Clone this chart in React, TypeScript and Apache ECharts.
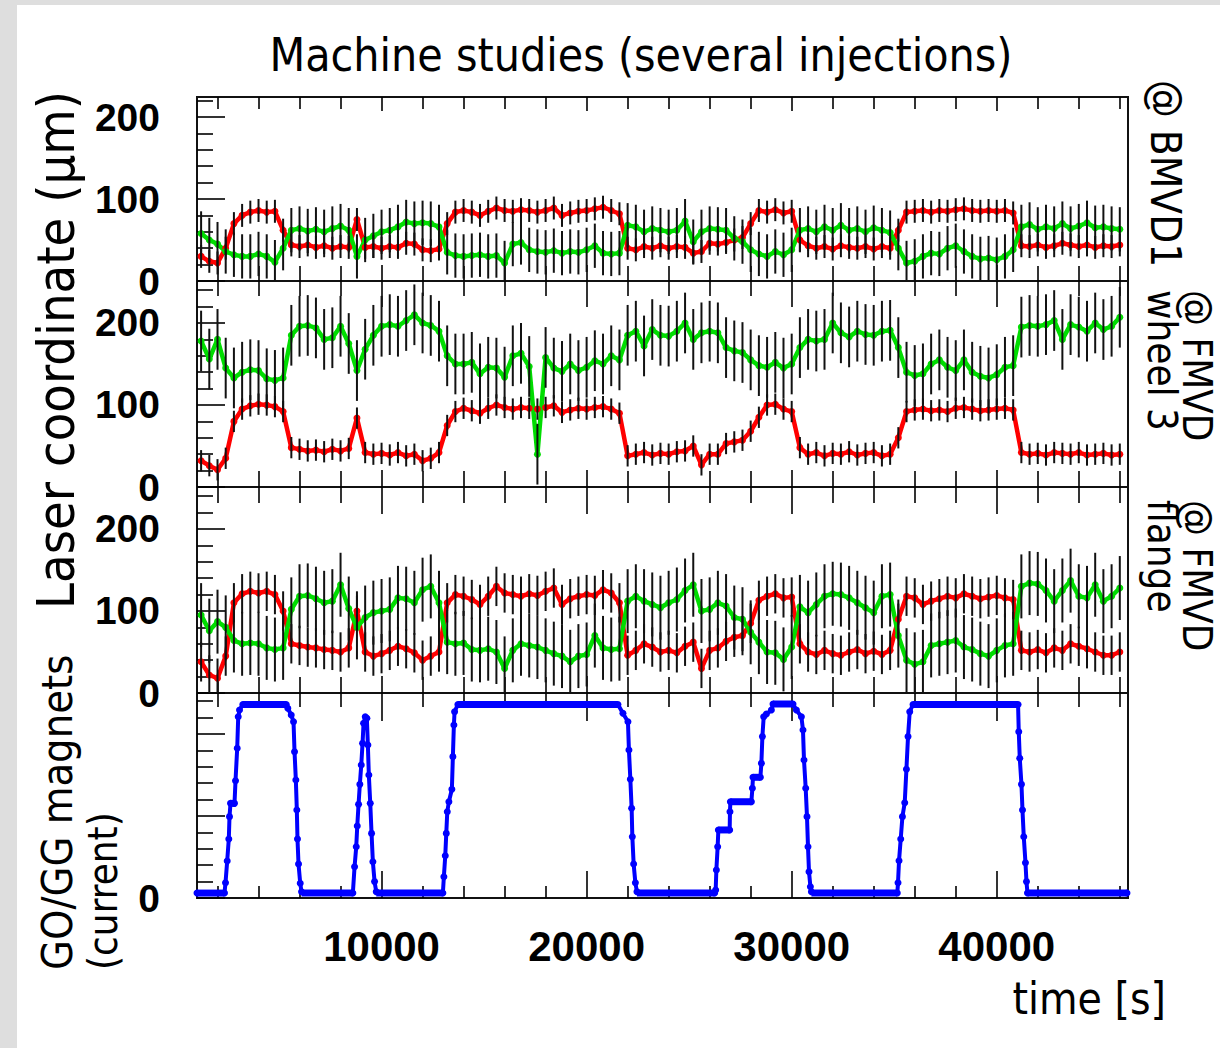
import React, { useEffect, useRef } from "react";
import * as echarts from "echarts";

// time samples [s]
const T = [
  1200, 1600, 2000, 2400, 2800, 3200, 3600, 4000, 4400, 4800,
  5200, 5600, 6000, 6400, 6800, 7200, 7600, 8000, 8400, 8800,
  9200, 9600, 10000, 10400, 10800, 11200, 11600, 12000, 12400, 12800,
  13200, 13600, 14000, 14400, 14800, 15200, 15600, 16000, 16400, 16800,
  17200, 17600, 18000, 18400, 18800, 19200, 19600, 20000, 20400, 20800,
  21200, 21600, 22000, 22400, 22800, 23200, 23600, 24000, 24400, 24800,
  25200, 25600, 26000, 26400, 26800, 27200, 27600, 28000, 28400, 28800,
  29200, 29600, 30000, 30400, 30800, 31200, 31600, 32000, 32400, 32800,
  33200, 33600, 34000, 34400, 34800, 35200, 35600, 36000, 36400, 36800,
  37200, 37600, 38000, 38400, 38800, 39200, 39600, 40000, 40400, 40800,
  41200, 41600, 42000, 42400, 42800, 43200, 43600, 44000, 44400, 44800,
  45200, 45600, 46000,
];

// @ BMVD1
const BMVD1_RED = [
  30, 24, 22, 40, 70, 80, 84, 86, 84, 85,
  62, 44, 42, 44, 41, 43, 40, 42, 41, 75,
  41, 42, 40, 42, 41, 46, 45, 38, 37, 39,
  70, 84, 86, 84, 80, 85, 89, 86, 85, 87,
  86, 84, 86, 89, 80, 83, 85, 86, 88, 90,
  86, 82, 40, 38, 42, 40, 43, 40, 42, 41,
  34, 36, 46, 45, 47, 50, 53, 70, 86, 84,
  87, 83, 85, 50, 43, 40, 42, 39, 43, 41,
  40, 42, 39, 42, 40, 62, 84, 85, 86, 84,
  86, 85, 87, 88, 86, 85, 86, 85, 86, 83,
  43, 42, 44, 41, 43, 46, 44, 42, 44, 41,
  43, 42, 44,
];
const BMVD1_GREEN = [
  58, 50, 45, 36, 32, 30, 30, 33, 30, 23,
  40, 62, 64, 61, 63, 60, 64, 67, 62, 30,
  50, 55, 60, 62, 66, 72, 70, 71, 70, 66,
  35, 31, 30, 31, 32, 30, 31, 22, 45, 47,
  38, 36, 35, 37, 34, 36, 35, 38, 43, 34,
  33, 34, 68, 66, 60, 64, 62, 60, 62, 73,
  48, 60, 64, 63, 62, 52, 48, 38, 33, 30,
  36, 32, 38, 62, 64, 60, 66, 62, 68, 62,
  64, 60, 65, 62, 59, 40, 22, 24, 30, 34,
  33, 40, 43, 36, 30, 27, 28, 26, 30, 38,
  66, 69, 63, 66, 64, 70, 64, 67, 71, 65,
  66, 64, 63,
];

// @ FMVD wheel 3
const WHEEL3_RED = [
  32, 26, 21, 35, 80, 95, 99, 101, 100, 98,
  92, 48, 46, 44, 45, 43, 46, 44, 47, 84,
  42, 40, 41, 39, 42, 38, 40, 32, 35, 42,
  75, 92, 96, 93, 90, 96, 100, 97, 95, 97,
  96, 95, 97, 99, 91, 94, 96, 95, 97, 98,
  95, 90, 38, 40, 42, 39, 41, 40, 43, 44,
  50, 27, 40, 40, 53, 55, 57, 68, 85, 100,
  101, 95, 92, 48, 40, 42, 38, 41, 40, 43,
  39, 41, 42, 38, 40, 60, 92, 94, 95, 93,
  94, 92, 96, 97, 95, 93, 94, 95, 96, 94,
  42, 40, 41, 39, 42, 41, 40, 42, 39, 40,
  41, 39, 40,
];
const WHEEL3_GREEN = [
  178, 156, 180, 145, 133, 140, 143, 142, 132, 130,
  133, 185, 196, 197, 194, 180, 182, 196, 175, 142,
  168, 185, 196, 198, 196, 203, 210, 200, 197, 190,
  160, 150, 150, 152, 138, 146, 145, 134, 160, 163,
  147, 40, 158, 145, 141, 150, 142, 146, 154, 150,
  160, 155, 185, 190, 172, 192, 185, 184, 190, 200,
  180, 188, 190, 188, 170, 166, 164, 155, 148, 146,
  152, 145, 150, 170, 180, 178, 180, 200, 188, 183,
  190, 186, 185, 190, 191, 170, 140, 136, 138, 150,
  155, 146, 142, 155, 140, 135, 133, 137, 146, 148,
  195, 197, 196, 198, 203, 180, 198, 195, 190, 200,
  192, 196, 207,
];

// @ FMVD flange
const FLANGE_RED = [
  38, 22, 18, 45, 110, 121, 124, 122, 124, 120,
  100, 60, 58, 56, 55, 53, 52, 50, 55, 100,
  50, 45, 48, 52, 57, 54, 49, 40, 45, 50,
  110, 120, 118, 114, 108, 118, 130, 122, 120, 118,
  121, 119, 124, 128, 108, 115, 118, 120, 119, 126,
  122, 110, 46, 52, 60, 56, 50, 52, 49, 57,
  62, 30, 52, 55, 63, 68, 70, 85, 113, 118,
  121, 116, 117, 60, 50, 47, 52, 48, 46, 50,
  53, 48, 51, 47, 52, 90, 118, 116, 108, 112,
  115, 118, 116, 121, 118, 115, 117, 119, 116, 114,
  52, 50, 53, 49, 55, 52, 60, 57, 54, 50,
  46, 46, 50,
];
const FLANGE_GREEN = [
  95, 76, 87, 80, 64, 60, 61, 60, 55, 53,
  55, 102, 118, 119, 115, 110, 112, 132, 103, 80,
  92, 98, 100, 102, 116, 115, 110, 126, 130, 110,
  62, 60, 61, 53, 52, 54, 50, 30, 52, 60,
  58, 56, 52, 48, 45, 38, 45, 47, 70, 55,
  53, 54, 112, 118, 112, 108, 104, 110, 114, 125,
  132, 100, 102, 110, 106, 92, 90, 74, 62, 50,
  49, 41, 56, 105, 98, 108, 118, 121, 120, 116,
  110, 104, 98, 118, 120, 70, 40, 35, 38, 58,
  60, 62, 64, 56, 53, 48, 45, 52, 58, 60,
  130, 134, 133, 125, 112, 125, 137, 118, 116, 132,
  112, 118, 128,
];

// error bar half-lengths (µm): red / green per panel
const ERR_BMVD1 = [14, 27];
const ERR_WHEEL3 = [13, 37];
const ERR_FLANGE = [24, 39];

// GO/GG magnet current (tick units), [time, value]
const MAGNETS = [
  [1000, 0.3], [2341, 0.3], [2390, 0.93], [2473, 2.26], [2551, 3.6], [2585, 4.96], [2634, 5.77], [2829, 5.77],
  [2878, 7.15], [2961, 9.13], [3010, 11.05], [3073, 11.46], [3234, 11.8], [5351, 11.8],
  [5429, 11.57], [5595, 11.16], [5707, 10.75], [5756, 8.92], [5820, 7.2], [5868, 5.37], [5900, 3.6],
  [5951, 2.07], [6034, 0.9], [6098, 0.38], [8600, 0.3],
  [8683, 1.9], [8766, 3.13], [8815, 4.39], [8878, 5.71], [8941, 6.93], [9010, 8.11], [9073, 9.43],
  [9122, 10.65], [9205, 11.05], [9283, 10.96], [9332, 9.33], [9380, 7.5], [9449, 5.77], [9512, 3.94],
  [9576, 2.21], [9659, 1.0], [9741, 0.38], [12990, 0.3],
  [13039, 1.3], [13107, 2.58], [13156, 3.94], [13205, 5.26], [13283, 5.87], [13429, 6.63], [13478, 8.62],
  [13527, 10.55], [13561, 11.36], [13722, 11.8], [21527, 11.8],
  [21771, 11.26], [22015, 10.75], [22063, 9.02], [22132, 7.24], [22195, 5.47], [22229, 3.74], [22293, 2.07],
  [22376, 0.93], [22454, 0.38], [26244, 0.3],
  [26293, 0.49], [26327, 1.71], [26390, 3.13], [26424, 4.15], [26976, 4.15], [26990, 5.26], [27010, 5.87],
  [28034, 5.87], [28083, 6.69], [28112, 7.36], [28473, 7.36], [28522, 8.21], [28571, 9.84], [28634, 11.05],
  [28766, 11.22], [29010, 11.46], [29088, 11.83], [30063, 11.83],
  [30229, 11.46], [30473, 11.05], [30551, 10.24], [30600, 8.41], [30683, 6.69], [30746, 4.96], [30795, 3.13],
  [30844, 1.6], [30912, 0.69], [30961, 0.38], [35150, 0.3],
  [35185, 0.93], [35234, 2.27], [35317, 3.6], [35400, 4.96], [35512, 5.81], [35595, 7.85], [35673, 9.84],
  [35756, 11.36], [35917, 11.8], [41039, 11.8],
  [41073, 10.14], [41122, 8.52], [41205, 6.93], [41254, 5.37], [41317, 3.74], [41400, 2.15], [41449, 1.0],
  [41498, 0.3], [46350, 0.3],
];
// densely sampled flat stretches of the magnet current: [start, end, value]
const MAGNET_FLATS = [
  [1000, 2341, 0.3], [2634, 2829, 5.77], [3234, 5351, 11.8], [6098, 8600, 0.3], [9741, 12990, 0.3],
  [13722, 21527, 11.8], [22454, 26244, 0.3], [26424, 26976, 4.15], [27010, 28034, 5.87],
  [28112, 28473, 7.36], [29088, 30063, 11.83], [30961, 35150, 0.3], [35917, 41039, 11.8],
  [41498, 46350, 0.3],
];

const X_MIN = 1000;
const X_MAX = 46400;
const X_MAJOR = [10000, 20000, 30000, 40000];
const X_MINOR = [2000, 4000, 6000, 8000, 12000, 14000, 16000, 18000, 22000, 24000, 26000, 28000,
  32000, 34000, 36000, 38000, 42000, 44000, 46000];
const Y_MAJOR = [0, 100, 200];
const Y_LABELS = [0, 100, 200];
const Y_MINOR = [20, 40, 60, 80, 120, 140, 160, 180, 220, 240];
const M_MAJOR = [0, 5, 10];
const M_LABELS = [0];
const M_MINOR = [1, 2, 3, 4, 6, 7, 8, 9, 11, 12];

const RED = "#ff0000";
const GREEN = "#00dd00";
const BLUE = "#0000ff";
const LABEL_FONT = "'Liberation Sans', Arial, sans-serif";
const TEXT_FONT = "'DejaVu Sans Condensed', 'DejaVu Sans', sans-serif";

const GRIDS = [
  { top: 97, height: 184, yMax: 224.4 },
  { top: 281, height: 206, yMax: 251.2 },
  { top: 487, height: 206, yMax: 251.2 },
  { top: 693, height: 205, yMax: 12.5 },
];
const TICKS = [
  { topMaj: 14, topMin: 12, botMaj: 16, botMin: 15 },
  { topMaj: 26, topMin: 15, botMaj: 17, botMin: 16 },
  { topMaj: 27, topMin: 16, botMaj: 17, botMin: 16 },
  { topMaj: 28, topMin: 14, botMaj: 27, botMin: 12 },
];

function buildOption() {
  const tickLine = { color: "#000", width: 1.6 };
  const grid = GRIDS.map((g) => ({
    left: 197, width: 931, top: g.top, height: g.height,
    show: true, borderColor: "#111", borderWidth: 2, backgroundColor: "transparent",
  }));

  const xAxis: any[] = [];
  GRIDS.forEach((g, gi) => {
    const base = {
      gridIndex: gi, type: "value", min: X_MIN, max: X_MAX,
      splitLine: { show: false }, axisLine: { show: false },
    };
    const tk = TICKS[gi];
    const last = gi === GRIDS.length - 1;
    xAxis.push({
      ...base, position: "bottom",
      axisTick: { show: true, inside: true, length: tk.botMaj, customValues: X_MAJOR, lineStyle: tickLine },
      axisLabel: last
        ? {
            show: true, customValues: X_MAJOR, margin: 27, color: "#000", fontSize: 42,
            fontWeight: "bold", fontFamily: LABEL_FONT, formatter: (v: number) => String(v),
          }
        : { show: false },
    });
    xAxis.push({
      ...base, position: "bottom",
      axisTick: { show: true, inside: true, length: tk.botMin, customValues: X_MINOR, lineStyle: tickLine },
      axisLabel: { show: false },
    });
    xAxis.push({
      ...base, position: "top",
      axisTick: { show: true, inside: true, length: tk.topMaj, customValues: X_MAJOR, lineStyle: tickLine },
      axisLabel: { show: false },
    });
    xAxis.push({
      ...base, position: "top",
      axisTick: { show: true, inside: true, length: tk.topMin, customValues: X_MINOR, lineStyle: tickLine },
      axisLabel: { show: false },
    });
  });

  const yAxis: any[] = [];
  GRIDS.forEach((g, gi) => {
    const mag = gi === 3;
    const base = {
      gridIndex: gi, type: "value", min: 0, max: g.yMax, position: "left",
      splitLine: { show: false }, axisLine: { show: false },
    };
    yAxis.push({
      ...base,
      axisTick: { show: true, inside: true, length: 28, customValues: mag ? M_MAJOR : Y_MAJOR, lineStyle: tickLine },
      axisLabel: {
        show: true, customValues: mag ? M_LABELS : Y_LABELS, margin: 37, color: "#000",
        fontSize: 39, fontWeight: "bold", fontFamily: LABEL_FONT, lineHeight: 36,
        formatter: (v: number) => String(v),
      },
    });
    yAxis.push({
      ...base,
      axisTick: {
        show: true, inside: true, length: 16,
        customValues: (mag ? M_MINOR : Y_MINOR).filter((v) => v < g.yMax), lineStyle: tickLine,
      },
      axisLabel: { show: false },
    });
  });

  const panels = [
    { red: BMVD1_RED, green: BMVD1_GREEN, err: ERR_BMVD1 },
    { red: WHEEL3_RED, green: WHEEL3_GREEN, err: ERR_WHEEL3 },
    { red: FLANGE_RED, green: FLANGE_GREEN, err: ERR_FLANGE },
  ];

  const errorBars = (vals: number[], err: number, gi: number) => ({
    type: "custom",
    xAxisIndex: gi * 4, yAxisIndex: gi * 2,
    clip: true, z: 4, silent: true,
    encode: { x: 0, y: 1 },
    data: T.map((t, i) => [t, vals[i], err]),
    renderItem: (params: any, api: any) => {
      const t = api.value(0), v = api.value(1), e = api.value(2);
      const a = api.coord([t, v - e]);
      const b = api.coord([t, v + e]);
      return {
        type: "line",
        shape: { x1: a[0], y1: a[1], x2: b[0], y2: b[1] },
        style: { stroke: "#111", lineWidth: 2 },
      };
    },
  });

  const lineSeries = (vals: number[], color: string, gi: number) => ({
    type: "line",
    xAxisIndex: gi * 4, yAxisIndex: gi * 2,
    data: T.map((t, i) => [t, vals[i]]),
    symbol: "circle", symbolSize: 7, showSymbol: true,
    itemStyle: { color }, lineStyle: { color, width: 4.5 },
    z: 3, silent: true, clip: true,
  });

  const series: any[] = [];
  panels.forEach((p, gi) => {
    series.push(lineSeries(p.red, RED, gi));
    series.push(lineSeries(p.green, GREEN, gi));
    series.push(errorBars(p.red, p.err[0], gi));
    series.push(errorBars(p.green, p.err[1], gi));
  });

  series.push({
    type: "custom",
    xAxisIndex: 12, yAxisIndex: 6, clip: true, z: 3, silent: true,
    encode: { x: [0, 1], y: 2 },
    data: MAGNET_FLATS,
    renderItem: (params: any, api: any) => {
      const a = api.coord([api.value(0), api.value(2)]);
      const b = api.coord([api.value(1), api.value(2)]);
      return {
        type: "line",
        shape: { x1: a[0], y1: a[1], x2: b[0], y2: b[1] },
        style: { stroke: BLUE, lineWidth: 7 },
      };
    },
  });
  series.push({
    type: "line",
    xAxisIndex: 12, yAxisIndex: 6,
    data: MAGNETS,
    symbol: "circle", symbolSize: 7, showSymbol: true,
    itemStyle: { color: BLUE }, lineStyle: { color: BLUE, width: 4 },
    z: 3, silent: true, clip: true,
  });

  const txt = (text: string, x: number, y: number, size: number, align: string, rotation = 0, vAlign = "middle") => ({
    type: "text", x, y, rotation, silent: true, z: 10,
    style: {
      text, fill: "#000", fontSize: size, fontFamily: TEXT_FONT,
      align, verticalAlign: vAlign, textAlign: align, textVerticalAlign: vAlign,
    },
  });

  const graphic = [
    { type: "rect", shape: { x: 0, y: 0, width: 1220, height: 5 }, style: { fill: "#dedede" }, z: 10 },
    { type: "rect", shape: { x: 0, y: 0, width: 17, height: 1048 }, style: { fill: "#dedede" }, z: 10 },
    txt("Machine studies (several injections)", 641, 55, 46, "center"),
    txt("Laser coordinate (μm)", 56, 350, 52, "center", Math.PI / 2),
    txt("GO/GG magnets", 57, 970, 43, "left", Math.PI / 2),
    txt("(current)", 103, 970, 40, "left", Math.PI / 2),
    txt("@ BMVD1", 1165, 80, 42, "left", -Math.PI / 2),
    txt("@ FMVD", 1197, 290, 40, "left", -Math.PI / 2),
    txt("wheel 3", 1162, 290, 40, "left", -Math.PI / 2),
    txt("@ FMVD", 1197, 500, 40, "left", -Math.PI / 2),
    txt("flange", 1162, 500, 40, "left", -Math.PI / 2),
    txt("time [s]", 1166, 998, 44, "right"),
  ];

  return {
    animation: false,
    backgroundColor: "#ffffff",
    grid, xAxis, yAxis, series, graphic,
  };
}

export default function App() {
  const ref = useRef<HTMLDivElement>(null);
  useEffect(() => {
    if (!ref.current) return;
    const chart = echarts.init(ref.current, undefined, { renderer: "svg" });
    chart.setOption(buildOption() as any);
    return () => chart.dispose();
  }, []);
  return (
    <div
      ref={ref}
      style={{ position: "fixed", left: 0, top: 0, width: 1220, height: 1048, background: "#fff" }}
    />
  );
}
